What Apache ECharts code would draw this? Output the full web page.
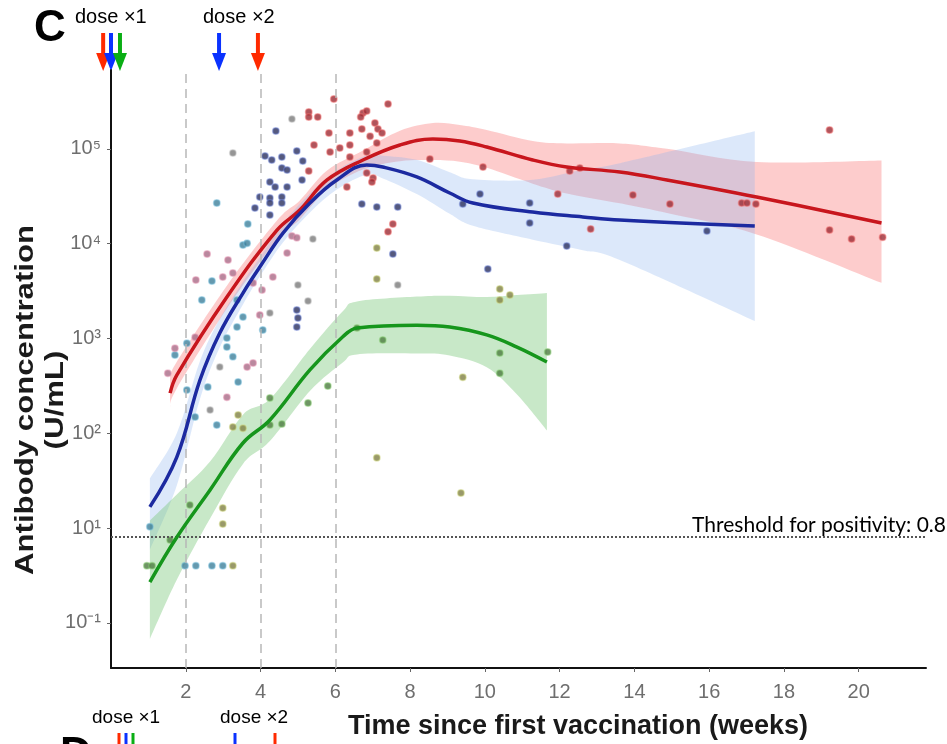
<!DOCTYPE html>
<html>
<head>
<meta charset="utf-8">
<script src="https://cdn.jsdelivr.net/npm/echarts@6/dist/echarts.min.js"></script>
<style>
  html, body { margin: 0; padding: 0; background: #fff; }
  #chart { width: 947px; height: 744px; }
</style>
</head>
<body>
<div id="chart"></div>
<script>
// x: weeks since first vaccination, y: antibody concentration (U/mL)

// loess fits + confidence band
var redFitX = [1.58, 1.76, 3.10, 4.44, 5.05, 5.78, 6.74, 7.73, 8.61, 9.33, 10.05, 11.28, 12.19, 13.61, 14.87, 17.27, 20.61];
var redFit = [26.5, 41, 273, 1390, 2260, 4690, 7620, 10970, 12700, 12100, 10450, 7620, 6430, 5690, 4690, 3100, 1650];
var redUpper = [37.5, 56.6, 360, 1750, 2850, 5900, 9600, 15500, 18700, 17800, 15800, 12100, 11400, 11400, 10000, 7270, 7550];
var redLower = [18.8, 29.7, 207, 1100, 1800, 3720, 6050, 7400, 7600, 7300, 6300, 4290, 3380, 2660, 2100, 1250, 386];

var blueFitX = [1.04, 1.76, 2.38, 2.91, 3.53, 3.98, 4.60, 5.32, 6.04, 6.84, 7.27, 8.18, 9.06, 9.68, 11.28, 12.62, 13.61, 17.22];
var blueFit = [1.67, 5.61, 36.4, 114, 301, 566, 1290, 2680, 4690, 6750, 6430, 5050, 3420, 2680, 2150, 1910, 1770, 1530];
var blueUpper = [3.33, 9.98, 57.7, 161, 397, 713, 1630, 3370, 5900, 8500, 8470, 7650, 5670, 4770, 4710, 6040, 7060, 15300];
var blueLower = [0.59, 2.81, 23, 80.7, 228, 450, 1030, 2130, 3720, 5360, 4870, 3330, 2060, 1540, 1100, 853, 673, 153];

var greenFitX = [1.04, 1.76, 2.65, 3.53, 4.25, 5.32, 6.20, 6.58, 8.18, 9.06, 10.05, 10.86, 11.66];
var greenFit = [0.269, 0.80, 2.52, 7.89, 13.8, 46.5, 104, 129, 138, 132, 109, 81.1, 56.4];
var greenUpper = [1.2, 2.26, 5.03, 15.7, 22.9, 77.3, 193, 245, 276, 282, 273, 287, 302];
var greenLower = [0.0675, 0.284, 1.26, 4.74, 8.26, 27.9, 55.8, 67.8, 69.3, 66.1, 49.6, 25.6, 10.7];

// individual measurements [weeks, U/mL]
var redPts = [[5.96, 33500], [5.29, 24400], [5.29, 21600], [5.53, 21600], [6.74, 23900], [6.68, 21600], [7.41, 29700],
  [6.84, 25000], [5.83, 14700], [6.39, 14700], [6.71, 16200], [7.06, 18700], [7.14, 16200], [6.93, 13600], [7.25, 14700],
  [5.43, 11000], [6.12, 10200], [6.39, 11000], [5.86, 9250], [6.84, 9250], [6.39, 8200], [7.11, 11500], [6.31, 3960],
  [7.01, 4920], [6.84, 5560], [6.98, 4470], [7.41, 1330], [7.54, 1610], [8.53, 7800], [9.95, 6430], [11.95, 3340],
  [12.27, 5830], [12.54, 6270], [12.83, 1430], [13.96, 3260], [14.95, 2620], [16.87, 2680], [17.01, 2680], [17.25, 2620],
  [19.22, 15800], [19.22, 1390], [19.81, 1120], [20.64, 1170], [5.29, 5830]];
var navyPts = [[4.41, 15400], [4.12, 8400], [4.30, 7620], [4.57, 8200], [4.97, 9480], [5.13, 7430], [4.57, 6270],
  [4.71, 5970], [4.25, 4470], [4.39, 3960], [4.71, 3960], [3.98, 3100], [4.25, 3030], [4.57, 3100], [4.25, 2680],
  [4.57, 2680], [3.85, 2380], [4.25, 2000], [5.11, 4690], [6.71, 2620], [7.11, 2430], [7.67, 2430], [7.54, 776],
  [9.87, 3340], [9.41, 2620], [11.20, 2680], [11.20, 1650], [12.19, 944], [10.08, 540], [15.94, 1360], [4.97, 200],
  [5.00, 164], [4.97, 132]];
var grayPts = [[3.26, 9040], [4.84, 20600], [5.40, 1120], [5.00, 366], [5.27, 248], [4.25, 185], [2.91, 50], [2.65, 17.6], [7.67, 366]];
var tealPts = [[2.83, 2680], [3.66, 1610], [3.53, 966], [3.64, 1010], [2.70, 403], [2.43, 254], [3.53, 168], [4.06, 123],
  [2.03, 89], [1.71, 67], [3.10, 101], [3.10, 81], [3.26, 64], [2.83, 12.2], [2.25, 14.8], [3.40, 34.7], [1.04, 1.03],
  [1.98, 0.40], [2.27, 0.40], [2.70, 0.40], [2.99, 0.40], [3.37, 254], [3.37, 132], [2.03, 28.6], [2.59, 30.7]];
var pinkPts = [[2.57, 776], [3.13, 671], [4.84, 1200], [4.97, 1150], [4.71, 796], [3.26, 490], [2.99, 444], [2.27, 413],
  [4.33, 444], [3.80, 384], [4.04, 324], [3.98, 177], [2.25, 103], [1.71, 79], [3.64, 50], [3.80, 55], [1.52, 43], [3.10, 24]];
var greenPts = [[6.58, 129], [7.27, 96], [10.40, 70], [11.68, 72], [10.40, 43], [0.96, 0.40], [1.10, 0.40], [2.11, 1.75],
  [1.58, 0.75], [4.25, 23.5], [4.25, 12.2], [4.57, 12.5], [5.27, 20.8], [5.80, 31.5]];
var olivePts = [[7.11, 899], [7.11, 423], [10.40, 332], [10.40, 254], [10.67, 287], [9.41, 39], [7.11, 5.5], [9.36, 2.34],
  [2.99, 1.63], [2.99, 1.10], [3.26, 0.40], [3.40, 15.6], [3.26, 11.6], [3.53, 11.3]];

var threshold = 0.8;
var doseLines = [2, 4, 6];

// y tick labels by exponent (as printed on the figure)
var yTickExp = [-1, 0, 1, 2, 3, 4];
var yTickText = ['10\u207B\u00B9', '10\u00B9', '10\u00B2', '10\u00B3', '10\u2074', '10\u2075'];

// dose arrows (weeks)
var dose1X = [-0.21, 0, 0.24];
var dose1Color = ['#ff2a00', '#0a32ff', '#0aae14'];
var dose2X = [2.89, 3.93];
var dose2Color = ['#0a32ff', '#ff2a00'];

var chart = echarts.init(document.getElementById('chart'));

function pairs(xs, ys) {
  return xs.map(function (x, i) { return [x, ys[i]]; });
}

// catmull-rom through pixel points -> bezier path segments
function curve(pts, start) {
  var d = start ? 'M' + pts[0][0] + ' ' + pts[0][1] : '';
  for (var i = 0; i < pts.length - 1; i++) {
    var p0 = pts[i - 1] || pts[i], p1 = pts[i], p2 = pts[i + 1], p3 = pts[i + 2] || p2;
    var c1x = p1[0] + (p2[0] - p0[0]) / 6, c1y = p1[1] + (p2[1] - p0[1]) / 6;
    var c2x = p2[0] - (p3[0] - p1[0]) / 6, c2y = p2[1] - (p3[1] - p1[1]) / 6;
    d += ' C' + c1x + ' ' + c1y + ' ' + c2x + ' ' + c2y + ' ' + p2[0] + ' ' + p2[1];
  }
  return d;
}

function band(xs, up, lo, color) {
  return {
    type: 'custom', silent: true, z: 1, data: [[1, 1]],
    renderItem: function (params, api) {
      var top = xs.map(function (x, i) { return api.coord([x, up[i]]); });
      var bot = xs.map(function (x, i) { return api.coord([x, lo[i]]); }).reverse();
      var d = curve(top, true) + ' L' + bot[0][0] + ' ' + bot[0][1] + curve(bot, false) + ' Z';
      return { type: 'path', shape: { pathData: d }, style: { fill: color } };
    }
  };
}

function dots(data, color, halo) {
  return {
    type: 'scatter', data: data, symbolSize: 6.5, z: 3,
    itemStyle: { color: color, borderColor: halo, borderWidth: 1.5 }
  };
}

function fit(xs, ys, color) {
  return {
    type: 'line', data: pairs(xs, ys), smooth: 0.4, symbol: 'none', z: 5,
    lineStyle: { color: color, width: 3.5 }
  };
}

var series = [
  band(redFitX, redUpper, redLower, 'rgba(250,110,110,0.35)'),
  band(blueFitX, blueUpper, blueLower, 'rgba(140,180,240,0.30)'),
  band(greenFitX, greenUpper, greenLower, 'rgba(110,195,110,0.38)'),
  dots(tealPts, '#3f7f9a', 'rgba(120,190,220,0.6)'),
  dots(pinkPts, '#a86a86', 'rgba(230,150,180,0.6)'),
  dots(grayPts, '#7a7a7a', 'rgba(200,200,200,0.6)'),
  dots(olivePts, '#7f7f45', 'rgba(200,210,120,0.6)'),
  dots(greenPts, '#4c7a40', 'rgba(140,210,120,0.6)'),
  dots(navyPts, '#2a2f5e', 'rgba(120,140,220,0.6)'),
  dots(redPts, '#9b2a33', 'rgba(240,110,110,0.6)'),
  fit(greenFitX, greenFit, '#16961c'),
  fit(redFitX, redFit, '#c8161d'),
  fit(blueFitX, blueFit, '#1c2aa0')
];

// reference lines
series.push({
  type: 'line', data: [], z: 2,
  markLine: {
    silent: true, symbol: 'none',
    label: { show: false },
    lineStyle: { color: '#b8b8b8', type: [9, 6], width: 1.5 },
    data: doseLines.map(function (d) { return { xAxis: d }; })
  }
});
series.push({
  type: 'line', data: [], z: 2,
  markLine: {
    silent: true, symbol: 'none',
    lineStyle: { color: '#555', type: [2, 2], width: 2 },
    label: {
      show: true, position: 'insideEndTop', formatter: 'Threshold for positivity: 0.8',
      color: '#000', fontFamily: 'Lato', fontSize: 21, distance: [0, 1], offset: [20, 0]
    },
    data: [{ yAxis: threshold }]
  }
});

var option = {
  animation: false,
  grid: { left: 111, right: 21, top: 70, bottom: 76 },
  xAxis: {
    type: 'value', min: 0, max: 21.8, interval: 2,
    axisLine: { lineStyle: { color: '#111', width: 2 } },
    axisTick: { length: 4, lineStyle: { color: '#666' } },
    axisLabel: {
      color: '#6e6e6e', fontSize: 20, fontFamily: 'Liberation Sans', margin: 14,
      showMinLabel: false, showMaxLabel: false
    },
    splitLine: { show: false }
  },
  yAxis: {
    type: 'log', logBase: 10, min: 0.0334, max: 67800,
    axisLine: { lineStyle: { color: '#111', width: 2 } },
    axisTick: { length: 4, lineStyle: { color: '#666' } },
    axisLabel: {
      color: '#6e6e6e', fontSize: 20, fontFamily: 'Liberation Sans', margin: 10,
      showMinLabel: false, showMaxLabel: false,
      formatter: function (v) {
        var e = Math.log10(v);
        var k = yTickExp.indexOf(Math.round(e));
        if (Math.abs(e - Math.round(e)) > 0.01 || k < 0) return '';
        return yTickText[k];
      }
    },
    splitLine: { show: false },
    minorTick: { show: false }
  },
  series: series
};
chart.setOption(option);

// annotations (text, arrows)
function arrow(px, color, top) {
  return {
    type: 'group', children: [
      { type: 'rect', shape: { x: px - 2, y: top, width: 4, height: 22 }, style: { fill: color } },
      { type: 'polygon', shape: { points: [[px - 7, top + 20], [px + 7, top + 20], [px, top + 38]] }, style: { fill: color } }
    ]
  };
}

var g = [
  { type: 'text', left: 34, top: 7, style: { text: 'C', font: 'bold 44px "Liberation Sans"', fill: '#000' } },
  { type: 'text', left: 75, top: 7, style: { text: 'dose \u00D71', font: '20px "Liberation Sans"', fill: '#000' } },
  { type: 'text', left: 203, top: 7, style: { text: 'dose \u00D72', font: '20px "Liberation Sans"', fill: '#000' } },
  {
    type: 'text', x: 41, y: 400, rotation: Math.PI / 2, scaleX: 1.2,
    style: {
      text: 'Antibody concentration\n(U/mL)', font: 'bold 26px "Liberation Sans"', fill: '#1a1a1a',
      align: 'center', verticalAlign: 'middle', lineHeight: 30
    }
  },
  {
    type: 'text', x: 578, y: 727,
    style: {
      text: 'Time since first vaccination (weeks)', font: 'bold 27px "Liberation Sans"', fill: '#1a1a1a',
      align: 'center', verticalAlign: 'middle'
    }
  },
  // next panel peeking in at the bottom
  { type: 'text', left: 60, top: 734, style: { text: 'D', font: 'bold 44px "Liberation Sans"', fill: '#000' } },
  { type: 'text', left: 92, top: 708, style: { text: 'dose \u00D71', font: '19px "Liberation Sans"', fill: '#000' } },
  { type: 'text', left: 220, top: 708, style: { text: 'dose \u00D72', font: '19px "Liberation Sans"', fill: '#000' } }
];
dose1X.forEach(function (d, i) {
  g.push(arrow(chart.convertToPixel({ xAxisIndex: 0 }, d), dose1Color[i], 33));
});
dose2X.forEach(function (d, i) {
  g.push(arrow(chart.convertToPixel({ xAxisIndex: 0 }, d), dose2Color[i], 33));
});
[119, 126, 133].forEach(function (px, i) {
  g.push({ type: 'rect', shape: { x: px - 1.5, y: 733, width: 3, height: 12 }, style: { fill: dose1Color[i] } });
});
[235, 275].forEach(function (px, i) {
  g.push({ type: 'rect', shape: { x: px - 1.5, y: 733, width: 3, height: 12 }, style: { fill: dose2Color[i] } });
});
chart.setOption({ graphic: g });
</script>
</body>
</html>
